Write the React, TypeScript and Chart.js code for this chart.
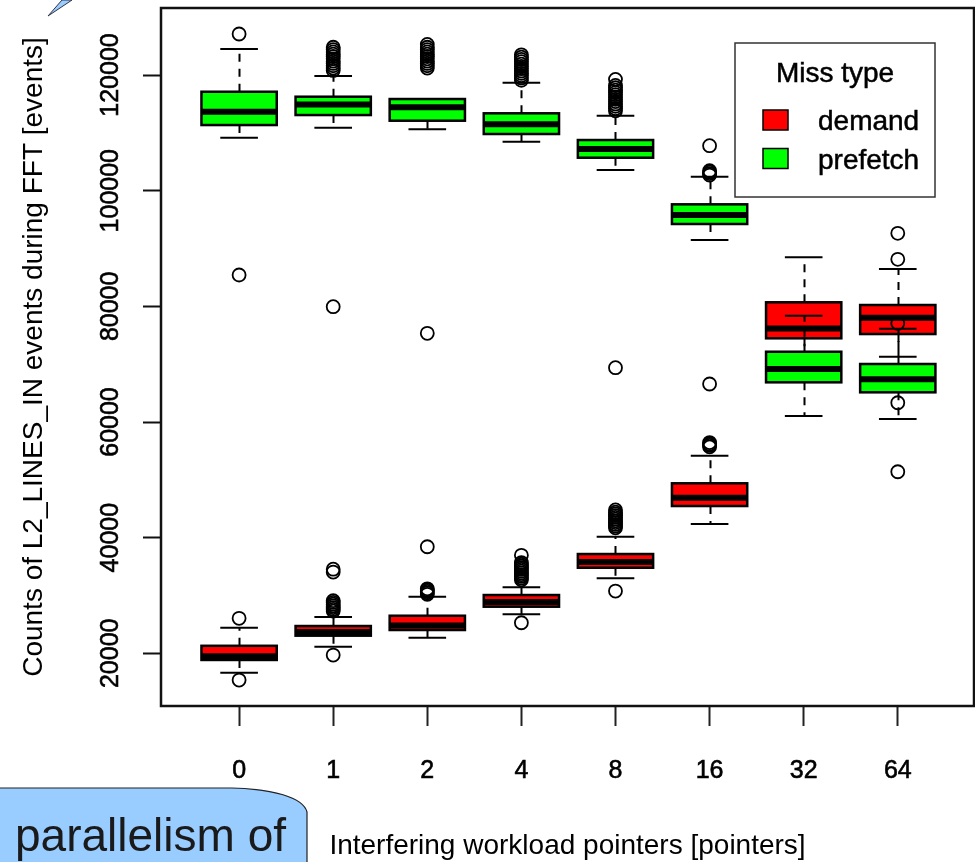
import React, { useEffect, useRef } from "react";
import { Chart, registerables } from "chart.js";

Chart.register(...registerables);

// ---------- data ----------
const categories = ["0", "1", "2", "4", "8", "16", "32", "64"];
const seriesNames = ["demand", "prefetch"];
const seriesColors = ["#ff0000", "#00ff00"];
const legendTitle = "Miss type";
const xTitle = "Interfering workload pointers [pointers]";
const yTitle = "Counts of L2_LINES_IN events during FFT [events]";
const calloutText = "parallelism of";
const yTickValues = [20000, 40000, 60000, 80000, 100000, 120000];
const yMin = 10890;
const yMax = 131590;
const xMin = -0.83;
const xMax = 7.81;

const demandLow = [16650, 21150, 22700, 26740, 32970, 42360, 69000, 71290];
const demandQ1 = [18850, 23050, 24030, 28060, 34800, 45470, 74470, 75210];
const demandMedian = [19500, 23700, 24800, 28870, 35790, 46890, 76170, 78030];
const demandQ3 = [21300, 24720, 26500, 30080, 37170, 49400, 80700, 80230];
const demandHigh = [24400, 26300, 29800, 31410, 40160, 54170, 88480, 86450];
const demandOutliers = [
  [26050, 15380],
  [27300, 27600, 27900, 28200, 28500, 28800, 29100, 34050, 34550, 19700],
  [30200, 30450, 30700, 30950, 31150, 38430],
  [32700, 33000, 33300, 33600, 33900, 34200, 34500, 34800, 35100, 35400, 35700, 36950, 25290],
  [41700, 42000, 42300, 42600, 42900, 43200, 43500, 43800, 44100, 44400, 44800, 30770],
  [55700, 55950, 56200, 56450, 66570],
  [],
  [88130, 92630, 63330],
];

const prefetchLow = [109160, 110890, 110610, 108470, 103570, 91470, 61030, 60520];
const prefetchQ1 = [111350, 113080, 112100, 109800, 105700, 94240, 66860, 65130];
const prefetchMedian = [113650, 114900, 114420, 111480, 107200, 95790, 69160, 67380];
const prefetchQ3 = [117110, 116250, 115850, 113380, 108760, 97640, 72150, 70030];
const prefetchHigh = [124500, 119830, 115850, 118670, 112960, 102410, 78380, 76130];
const prefetchOutliers = [
  [127090, 85420],
  [120800, 121200, 121600, 122000, 122400, 122800, 123200, 123600, 124000, 124400, 124800, 79940],
  [121200, 121600, 122000, 122400, 122800, 123200, 123600, 124000, 124400, 124800, 125300, 75340],
  [119100, 119500, 119900, 120300, 120700, 121100, 121500, 121900, 122300, 122700, 123100, 123500],
  [113800, 114200, 114600, 115000, 115400, 115800, 116200, 116600, 117000, 117400, 117800, 118200, 119250, 69390],
  [102700, 102950, 103200, 103450, 107780],
  [],
  [77060, 51400],
];

const FONT = "'Liberation Sans', Arial, Helvetica, sans-serif";

type Stats = { low: number[]; q1: number[]; med: number[]; q3: number[]; high: number[] };
const boxSeries: Stats[] = [
  { low: demandLow, q1: demandQ1, med: demandMedian, q3: demandQ3, high: demandHigh },
  { low: prefetchLow, q1: prefetchQ1, med: prefetchMedian, q3: prefetchQ3, high: prefetchHigh },
];

const BOX_HALF = 0.4;
const CAP_HALF = 0.2;

const boxPlugin = {
  id: "boxplots",
  beforeDatasetsDraw(chart: any) {
    const { ctx, chartArea, scales } = chart;
    const xs = scales.x;
    const ys = scales.y;
    ctx.save();
    ctx.beginPath();
    ctx.rect(chartArea.left, chartArea.top, chartArea.right - chartArea.left, chartArea.bottom - chartArea.top);
    ctx.clip();
    boxSeries.forEach((s, si) => {
      for (let i = 0; i < categories.length; i++) {
        const xc = Math.round(xs.getPixelForValue(i)) + 0.5;
        const xl = xs.getPixelForValue(i - BOX_HALF);
        const xr = xs.getPixelForValue(i + BOX_HALF);
        const cl = xs.getPixelForValue(i - CAP_HALF);
        const cr = xs.getPixelForValue(i + CAP_HALF);
        const yLow = ys.getPixelForValue(s.low[i]);
        const yQ1 = ys.getPixelForValue(s.q1[i]);
        const yMed = ys.getPixelForValue(s.med[i]);
        const yQ3 = ys.getPixelForValue(s.q3[i]);
        const yHigh = ys.getPixelForValue(s.high[i]);
        ctx.strokeStyle = "#000";
        ctx.lineWidth = 2;
        ctx.lineCap = "butt";
        // whiskers
        ctx.setLineDash([8, 7]);
        ctx.beginPath();
        ctx.moveTo(xc, yQ3);
        ctx.lineTo(xc, yHigh);
        ctx.moveTo(xc, yQ1);
        ctx.lineTo(xc, yLow);
        ctx.stroke();
        ctx.setLineDash([]);
        // staples
        ctx.beginPath();
        ctx.moveTo(cl, yHigh);
        ctx.lineTo(cr, yHigh);
        ctx.moveTo(cl, yLow);
        ctx.lineTo(cr, yLow);
        ctx.stroke();
        // box
        ctx.fillStyle = seriesColors[si];
        ctx.fillRect(xl, yQ3, xr - xl, yQ1 - yQ3);
        ctx.lineWidth = 2.5;
        ctx.strokeRect(xl, yQ3, xr - xl, yQ1 - yQ3);
        // median
        ctx.lineWidth = 6;
        ctx.beginPath();
        ctx.moveTo(xl, yMed);
        ctx.lineTo(xr, yMed);
        ctx.stroke();
      }
    });
    ctx.restore();
  },
  afterDatasetsDraw(chart: any) {
    const { ctx, chartArea } = chart;
    ctx.save();
    // plot frame
    ctx.strokeStyle = "#111";
    ctx.lineWidth = 2.5;
    ctx.strokeRect(chartArea.left, chartArea.top, chartArea.right - chartArea.left, chartArea.bottom - chartArea.top);
    // legend
    const lx1 = chartArea.right - 239;
    const lx2 = chartArea.right - 39;
    const ly1 = chartArea.top + 35;
    const ly2 = chartArea.top + 189;
    ctx.fillStyle = "#fff";
    ctx.fillRect(lx1, ly1, lx2 - lx1, ly2 - ly1);
    ctx.lineWidth = 1.5;
    ctx.strokeStyle = "#333";
    ctx.strokeRect(lx1, ly1, lx2 - lx1, ly2 - ly1);
    ctx.fillStyle = "#000";
    ctx.strokeStyle = "#000";
    ctx.font = `28px ${FONT}`;
    ctx.textAlign = "center";
    ctx.textBaseline = "alphabetic";
    ctx.lineWidth = 0.5;
    ctx.fillText(legendTitle, (lx1 + lx2) / 2, ly1 + 39);
    ctx.strokeText(legendTitle, (lx1 + lx2) / 2, ly1 + 39);
    seriesNames.forEach((name, k) => {
      const base = ly1 + 87 + k * 38.5;
      ctx.fillStyle = seriesColors[k];
      ctx.fillRect(lx1 + 28, base - 20, 25, 20);
      ctx.lineWidth = 1.5;
      ctx.strokeStyle = "#000";
      ctx.strokeRect(lx1 + 28, base - 20, 25, 20);
      ctx.fillStyle = "#000";
      ctx.textAlign = "left";
      ctx.lineWidth = 0.5;
      ctx.fillText(name, lx1 + 83, base);
      ctx.strokeText(name, lx1 + 83, base);
    });
    ctx.restore();
  },
};

function toPoints(outs: number[][]) {
  const pts: { x: number; y: number }[] = [];
  outs.forEach((arr, i) => arr.forEach((v) => pts.push({ x: i, y: v })));
  return pts;
}

export default function App() {
  const canvasRef = useRef<HTMLCanvasElement | null>(null);

  useEffect(() => {
    const canvas = canvasRef.current;
    if (!canvas) return;
    const outlierStyle = {
      showLine: false,
      pointStyle: "circle",
      pointRadius: 6.5,
      pointHoverRadius: 6.5,
      pointBorderWidth: 1.8,
      pointBorderColor: "#000",
      pointBackgroundColor: "rgba(0,0,0,0)",
    };
    const chart = new Chart(canvas, {
      type: "scatter",
      data: {
        datasets: [
          { label: seriesNames[0], data: toPoints(demandOutliers), ...outlierStyle } as any,
          { label: seriesNames[1], data: toPoints(prefetchOutliers), ...outlierStyle } as any,
        ],
      },
      options: {
        animation: false,
        responsive: false,
        devicePixelRatio: 1,
        layout: { autoPadding: false, padding: { top: 8, right: 1, left: 0, bottom: 0 } },
        plugins: { legend: { display: false }, tooltip: { enabled: false } },
        scales: {
          x: {
            type: "linear",
            min: xMin,
            max: xMax,
            afterBuildTicks: (scale: any) => {
              scale.ticks = categories.map((_, i) => ({ value: i }));
            },
            afterFit: (scale: any) => {
              scale.height = 156;
              scale.paddingLeft = 0;
              scale.paddingRight = 0;
            },
            grid: {
              display: true,
              drawOnChartArea: false,
              drawTicks: true,
              tickLength: 20,
              tickWidth: 2,
              tickColor: "#222",
            },
            border: { display: false },
            ticks: {
              autoSkip: false,
              maxRotation: 0,
              minRotation: 0,
              padding: 30,
              color: "#000",
              textStrokeColor: "#000",
              textStrokeWidth: 0.6,
              font: { family: FONT, size: 25 },
              callback: (v: any) => categories[Math.round(Number(v))] ?? "",
            },
            title: {
              display: true,
              text: xTitle,
              color: "#000",
              font: { family: FONT, size: 28 },
              padding: { top: 0, bottom: -1 },
            },
          },
          y: {
            type: "linear",
            min: yMin,
            max: yMax,
            afterBuildTicks: (scale: any) => {
              scale.ticks = yTickValues.map((v) => ({ value: v }));
            },
            afterFit: (scale: any) => {
              scale.width = 161;
              scale.paddingTop = 0;
              scale.paddingBottom = 0;
            },
            grid: {
              display: true,
              drawOnChartArea: false,
              drawTicks: true,
              tickLength: 18,
              tickWidth: 2,
              tickColor: "#111",
            },
            border: { display: false },
            ticks: {
              autoSkip: false,
              minRotation: 90,
              maxRotation: 90,
              crossAlign: "center",
              padding: -10,
              color: "#000",
              textStrokeColor: "#000",
              textStrokeWidth: 0.6,
              font: { family: FONT, size: 25 },
              callback: (v: any) => String(v),
            },
            title: {
              display: true,
              text: yTitle,
              color: "#000",
              font: { family: FONT, size: 28 },
              padding: { top: 17, bottom: 0 },
            },
          },
        },
      } as any,
      plugins: [boxPlugin],
    });
    return () => chart.destroy();
  }, []);

  return (
    <div style={{ position: "absolute", left: 0, top: 0, width: 975, height: 862, background: "#fff", overflow: "hidden" }}>
      <canvas ref={canvasRef} width={975} height={862} style={{ display: "block" }} />
      <svg
        width={975}
        height={862}
        style={{ position: "absolute", left: 0, top: 0, pointerEvents: "none" }}
      >
        <path d="M0,788 L232,788 C272,789 303,797 307,812 L307,862 L0,862 Z" fill="#99ccff" />
        <path d="M0,788 L232,788 C272,789 303,797 307,812 L307,862" fill="none" stroke="#222" strokeWidth={1.2} />
        <text x={15} y={851} fontSize={46} fontFamily={FONT} fill="#1a1a1a">
          {calloutText}
        </text>
        <path d="M48,16 L62,0 L72,0 Z" fill="#99ccff" stroke="#334" strokeWidth={1} />
      </svg>
    </div>
  );
}
